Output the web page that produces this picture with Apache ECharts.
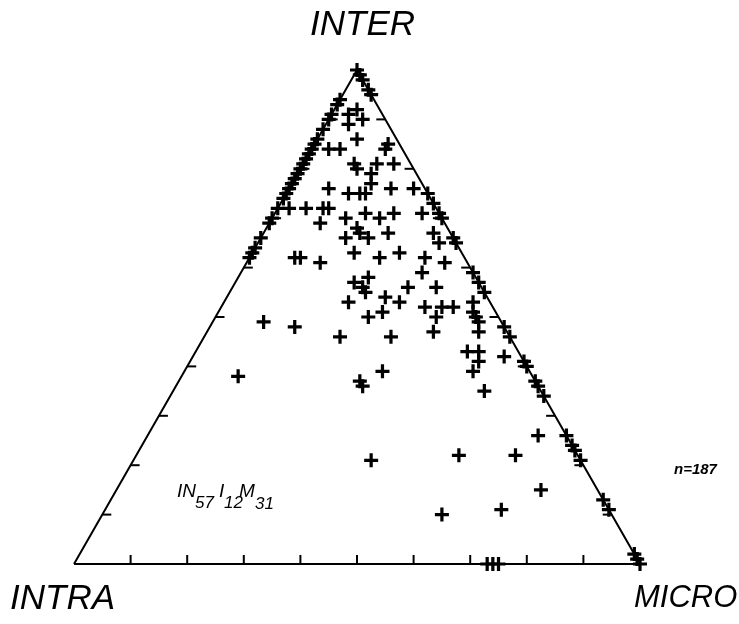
<!DOCTYPE html>
<html>
<head>
<meta charset="utf-8">
<title>INTER / INTRA / MICRO</title>
<script src="https://cdn.jsdelivr.net/npm/echarts@6/dist/echarts.min.js"></script>
<style>
  html, body { margin: 0; padding: 0; background: #fff; }
  #chart { width: 739px; height: 624px; }
</style>
</head>
<body>
<div id="chart"></div>
<script>
// Ternary composition of each sample, in percent (INTRA = 100 - INTER - MICRO).
const inter = [
  // along the INTER–MICRO side
  100, 99, 98, 96, 95, 75, 73, 71, 70, 66, 65, 59, 57, 55, 48, 46, 41, 40, 37, 36, 34, 26, 24, 23, 21, 13, 11, 2, 1, 0,
  // along the INTER–INTRA side
  94, 93, 91, 90, 88, 86, 85, 84, 83, 82, 81, 80, 79, 78, 77, 76, 75, 74, 72, 70, 69, 66, 64, 63, 62,
  // along the INTRA–MICRO side
  0, 0, 0,
  // interior
  92, 91, 89, 90, 86, 85, 84, 84, 84, 81, 80, 81, 81, 79, 77, 76, 75, 75, 75, 76, 76, 72, 72, 72, 72, 69, 70, 71, 70, 71, 71, 68, 67, 66, 66, 67, 67, 65,
  61, 63, 62, 63, 62, 61, 59, 57, 56, 58, 55, 56, 56, 54, 53, 53, 51, 52, 52, 52, 50, 47, 50, 46, 46, 53, 51, 50, 49, 47, 43, 43, 41, 39, 42, 39, 37, 36, 35, 26, 22, 15, 21, 22, 10, 11,
  62, 62, 49, 48, 38
];
const micro = [
  0, 1, 2, 4, 5, 25, 27, 29, 30, 34, 35, 41, 43, 45, 52, 54, 59, 60, 63, 64, 66, 74, 76, 77, 79, 87, 89, 98, 99, 100,
  0, 0, 0, 0, 0, 0, 0, 0, 0, 0, 0, 0, 0, 0, 0, 0, 0, 0, 0, 0, 0, 0, 0, 0, 0,
  73, 74, 75,
  4, 3, 4, 6, 7, 13, 13, 5, 3, 9, 10, 13, 16, 13, 14, 7, 11, 13, 14, 18, 22, 2, 5, 8, 9, 9, 13, 16, 19, 21, 26, 16, 17, 19, 15, 22, 30, 32,
  13, 18, 23, 26, 31, 35, 32, 21, 23, 23, 24, 31, 36, 28, 22, 31, 29, 36, 39, 41, 39, 40, 27, 24, 33, 44, 45, 46, 47, 48, 48, 50, 51, 51, 55, 35, 32, 33, 55, 69, 67, 75, 42, 57, 60, 70,
  8, 9, 9, 15, 10
];

// Corners of the diagram as [INTER, MICRO]
const corners = [[0, 0], [0, 100], [100, 0], [0, 0]];
// Tick marks every 10 % on each side
const tickValues = [10, 20, 30, 40, 50, 60, 70, 80, 90];

// Project a ternary composition onto the plane: x = MICRO + INTER/2, y = INTER
function project(i, m) { return [m + i / 2, i]; }

const points = inter.map((v, k) => project(v, micro[k]).concat([v, 100 - v - micro[k], micro[k]]));
const frame = corners.map(c => project(c[0], c[1]));

const chart = echarts.init(document.getElementById('chart'), null, { renderer: 'canvas' });
const textFont = 'Liberation Sans, DejaVu Sans, sans-serif';

function label(text, left, top, size, weight) {
  return {
    type: 'text', left: left, top: top,
    style: { text: text, font: 'italic ' + (weight || 'normal') + ' ' + size + 'px ' + textFont, fill: '#000' }
  };
}

chart.setOption({
  animation: false,
  backgroundColor: '#fff',
  grid: { left: 74, top: 70, width: 566, height: 494 },
  xAxis: { type: 'value', min: 0, max: 100, show: false },
  yAxis: { type: 'value', min: 0, max: 100, show: false },
  series: [
    {
      type: 'line',
      data: frame,
      symbol: 'none',
      lineStyle: { color: '#000', width: 2 },
      z: 1,
      silent: true
    },
    {
      type: 'custom',
      data: tickValues.map(v => [v]),
      clip: false,
      silent: true,
      z: 2,
      renderItem: function (params, api) {
        const v = api.value(0);
        const b = api.coord(project(0, v));          // INTRA–MICRO side
        const l = api.coord(project(v, 0));          // INTRA–INTER side
        const r = api.coord(project(v, 100 - v));    // INTER–MICRO side
        const st = { stroke: '#000', lineWidth: 2 };
        return {
          type: 'group',
          children: [
            { type: 'line', shape: { x1: b[0], y1: b[1], x2: b[0], y2: b[1] - 9 }, style: st },
            { type: 'line', shape: { x1: l[0], y1: l[1], x2: l[0] + 9, y2: l[1] }, style: st },
            { type: 'line', shape: { x1: r[0], y1: r[1], x2: r[0] - 9, y2: r[1] }, style: st }
          ]
        };
      }
    },
    {
      type: 'scatter',
      data: points,
      symbol: 'path://M5,0H8V5H13V8H8V13H5V8H0V5H5Z',
      symbolSize: 14,
      itemStyle: { color: '#000', opacity: 1 },
      z: 3
    }
  ],
  graphic: [
    label('INTER', 310, 8, 35),
    label('INTRA', 10, 582, 35),
    label('MICRO', 634, 583, 31),
    label('n=187', 674, 462, 15, 'bold'),
    label('IN', 177, 482, 19),
    label('57', 195, 495, 17),
    label('I', 219, 482, 19),
    label('12', 224, 495, 17),
    label('M', 239, 482, 19),
    label('31', 255, 496, 17)
  ]
});
</script>
</body>
</html>
